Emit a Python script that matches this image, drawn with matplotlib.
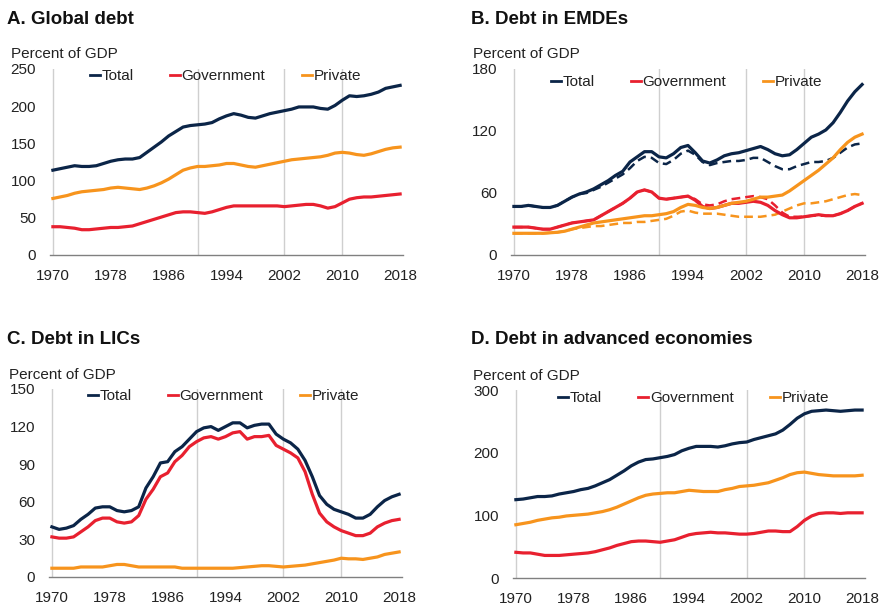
import numpy as np
import matplotlib
matplotlib.use("Agg")
import matplotlib.pyplot as plt

plt.rcParams['font.family'] = ['Liberation Sans', 'DejaVu Sans']

years = np.arange(1970, 2019)

# A. Global debt
glob_total = [114, 116, 118, 120, 119, 119, 120, 123, 126, 128, 129, 129, 131, 138, 145, 152, 160, 166, 172, 174,
              175, 176, 178, 183, 187, 190, 188, 185, 184, 187, 190, 192, 194, 196, 199, 199, 199, 197, 196, 201,
              208, 214, 213, 214, 216, 219, 224, 226, 228]
glob_gov = [38, 38, 37, 36, 34, 34, 35, 36, 37, 37, 38, 39, 42, 45, 48, 51, 54, 57, 58, 58,
            57, 56, 58, 61, 64, 66, 66, 66, 66, 66, 66, 66, 65, 66, 67, 68, 68, 66, 63, 65,
            70, 75, 77, 78, 78, 79, 80, 81, 82]
glob_priv = [76, 78, 80, 83, 85, 86, 87, 88, 90, 91, 90, 89, 88, 90, 93, 97, 102, 108, 114, 117,
             119, 119, 120, 121, 123, 123, 121, 119, 118, 120, 122, 124, 126, 128, 129, 130, 131, 132, 134, 137,
             138, 137, 135, 134, 136, 139, 142, 144, 145]

# B. EMDEs (solid) and EMDEs excluding China (dashed)
emde_total = [47, 47, 48, 47, 46, 46, 48, 52, 56, 59, 61, 64, 68, 72, 77, 81, 90, 95, 100, 100,
              95, 94, 98, 104, 106, 99, 91, 89, 92, 96, 98, 99, 101, 103, 105, 102, 98, 96, 97, 102,
              108, 114, 117, 121, 128, 138, 149, 158, 165]
emde_gov = [27, 27, 27, 26, 25, 25, 27, 29, 31, 32, 33, 34, 38, 42, 46, 50, 55, 61, 63, 61,
            55, 54, 55, 56, 57, 53, 47, 45, 46, 48, 50, 50, 51, 52, 51, 48, 43, 39, 36, 36,
            37, 38, 39, 38, 38, 40, 43, 47, 50]
emde_priv = [21, 21, 21, 21, 21, 21.5, 22, 23, 25, 27, 29, 31, 32, 33, 34, 35, 36, 37, 38, 38,
             39, 40, 42, 46, 49, 48, 46, 45, 46, 48, 50, 51, 52, 54, 56, 56, 57, 58, 62, 67,
             72, 77, 82, 88, 94, 102, 109, 114, 117]
exch_total = [47, 47, 48, 47, 46, 46, 48, 52, 56, 59, 60, 63, 66, 70, 74, 78, 84, 91, 95, 94,
              89, 88, 92, 98, 101, 97, 90, 87, 89, 90, 91, 91, 92, 94, 94, 90, 86, 83, 83, 86,
              88, 90, 90, 91, 94, 99, 104, 107, 108]
exch_gov = [27, 27, 27, 26, 25, 25, 27, 29, 31, 32, 33, 34, 38, 42, 46, 50, 55, 61, 63, 61,
            55, 54, 55, 56, 57, 54, 49, 48, 49, 52, 54, 55, 56, 57, 56, 54, 48, 41, 37, 37,
            37, 38, 38, 38, 38, 40, 43, 47, 50]
exch_priv = [21, 21, 21, 21, 21, 21.5, 22, 23, 25, 26, 27, 28, 28, 29, 30, 31, 31, 32, 32, 33,
             34, 35, 38, 42, 43, 41, 40, 40, 40, 39, 38, 37, 37, 37, 37, 38, 39, 42, 45, 48,
             50, 50, 51, 52, 54, 56, 58, 59, 58]

# C. LICs
lic_total = [40, 38, 39, 41, 46, 50, 55, 56, 56, 53, 52, 53, 56, 71, 80, 91, 92, 100, 104, 110,
             116, 119, 120, 117, 120, 123, 123, 119, 121, 122, 122, 114, 110, 107, 102, 93, 80, 65, 58, 54,
             52, 50, 47, 47, 50, 56, 61, 64, 66]
lic_gov = [32, 31, 31, 32, 36, 40, 45, 47, 47, 44, 43, 44, 49, 62, 70, 80, 83, 92, 97, 104,
           108, 111, 112, 110, 112, 115, 116, 110, 112, 112, 113, 105, 102, 99, 95, 84, 66, 51, 44, 40,
           37, 35, 33, 33, 35, 40, 43, 45, 46]
lic_priv = [7, 7, 7, 7, 8, 8, 8, 8, 9, 10, 10, 9, 8, 8, 8, 8, 8, 8, 7, 7,
            7, 7, 7, 7, 7, 7, 7.5, 8, 8.5, 9, 9, 8.5, 8, 8.5, 9, 9.5, 10.5, 11.5, 12.5, 13.5,
            15, 14.5, 14.5, 14, 15, 16, 18, 19, 20]

# D. Advanced economies
ae_total = [125, 126, 128, 130, 130, 131, 134, 136, 138, 141, 143, 147, 152, 157, 164, 171, 179, 185, 189, 190,
            192, 194, 197, 203, 207, 210, 210, 210, 209, 211, 214, 216, 217, 221, 224, 227, 230, 236, 245, 255,
            262, 266, 267, 268, 267, 266, 267, 268, 268]
ae_gov = [41, 40, 40, 38, 36, 36, 36, 37, 38, 39, 40, 42, 45, 48, 52, 55, 58, 59, 59, 58,
          57, 59, 61, 65, 69, 71, 72, 73, 72, 72, 71, 70, 70, 71, 73, 75, 75, 74, 74, 82,
          92, 99, 103, 104, 104, 103, 104, 104, 104]
ae_priv = [85, 87, 89, 92, 94, 96, 97, 99, 100, 101, 102, 104, 106, 109, 113, 118, 123, 128, 132, 134,
           135, 136, 136, 138, 140, 139, 138, 138, 138, 141, 143, 146, 147, 148, 150, 152, 156, 160, 165, 168,
           169, 167, 165, 164, 163, 163, 163, 163, 164]

xticks = [1970, 1978, 1986, 1994, 2002, 2010, 2018]
vlines = [1970, 1990, 2002, 2010]
series_names = ["Total", "Government", "Private"]
colors = ["#0b2548", "#e8202f", "#f7941d"]

W, H = 882, 606
fig = plt.figure(figsize=(8.82, 6.06), dpi=100)


def add_panel(box, title, title_xy, unit_xy, ymax, yticks, solid, dashed, leg_x, leg_dy):
    left, top, right, bottom = box
    ax = fig.add_axes([left / W, 1 - bottom / H, (right - left) / W, (bottom - top) / H])
    for x in vlines:
        ax.axvline(x, color="#cfcfcf", lw=1.0, zorder=0)
    if dashed is not None:
        for vals, c in zip(dashed, colors):
            ax.plot(years, vals, color=c, lw=1.8, ls=(0, (3.5, 2)), zorder=2)
    handles = []
    for vals, c, name in zip(solid, colors, series_names):
        h, = ax.plot(years, vals, color=c, lw=2.3, label=name, zorder=3)
        handles.append(h)
    ax.set_xlim(1969.6, 2018.4)
    ax.set_ylim(0, ymax)
    ax.set_xticks(xticks)
    ax.set_yticks(yticks)
    ax.tick_params(length=0, labelsize=11, colors="#222222")
    ax.tick_params(axis="y", pad=10)
    ax.tick_params(axis="x", pad=10)
    for s in ["top", "right", "left"]:
        ax.spines[s].set_visible(False)
    ax.spines["bottom"].set_color("#808080")
    ax.spines["bottom"].set_linewidth(1.0)
    leg = ax.legend(handles=handles, ncol=3, loc="center left", frameon=False,
                    bbox_to_anchor=(leg_x, 1 - leg_dy / (bottom - top)),
                    borderaxespad=0, borderpad=0, handlelength=0.65, handletextpad=0.1,
                    columnspacing=2.4, fontsize=11)
    for lh in leg.get_lines():
        lh.set_linewidth(2.0)
    for t in leg.get_texts():
        t.set_color("#222222")
    fig.text(title_xy[0] / W, 1 - title_xy[1] / H, title, fontsize=13.5, fontweight="bold",
             va="baseline", ha="left", color="#111111")
    fig.text(unit_xy[0] / W, 1 - unit_xy[1] / H, "Percent of GDP", fontsize=11,
             va="baseline", ha="left", color="#222222")
    return ax


add_panel((50, 69, 403, 255), "A. Global debt", (7, 24), (11, 58), 250, [0, 50, 100, 150, 200, 250],
          [glob_total, glob_gov, glob_priv], None, 0.113, 7)
add_panel((511, 69, 865, 255), "B. Debt in EMDEs", (471, 24), (473, 58), 180, [0, 60, 120, 180],
          [emde_total, emde_gov, emde_priv], [exch_total, exch_gov, exch_priv], 0.113, 13)
add_panel((49, 389, 402, 577), "C. Debt in LICs", (7, 344), (9, 379), 150, [0, 30, 60, 90, 120, 150],
          [lic_total, lic_gov, lic_priv], None, 0.11, 7)
add_panel((513, 390, 865, 578), "D. Debt in advanced economies", (471, 344), (473, 380), 300, [0, 100, 200, 300],
          [ae_total, ae_gov, ae_priv], None, 0.128, 8)

fig.savefig("out.png", dpi=100)
